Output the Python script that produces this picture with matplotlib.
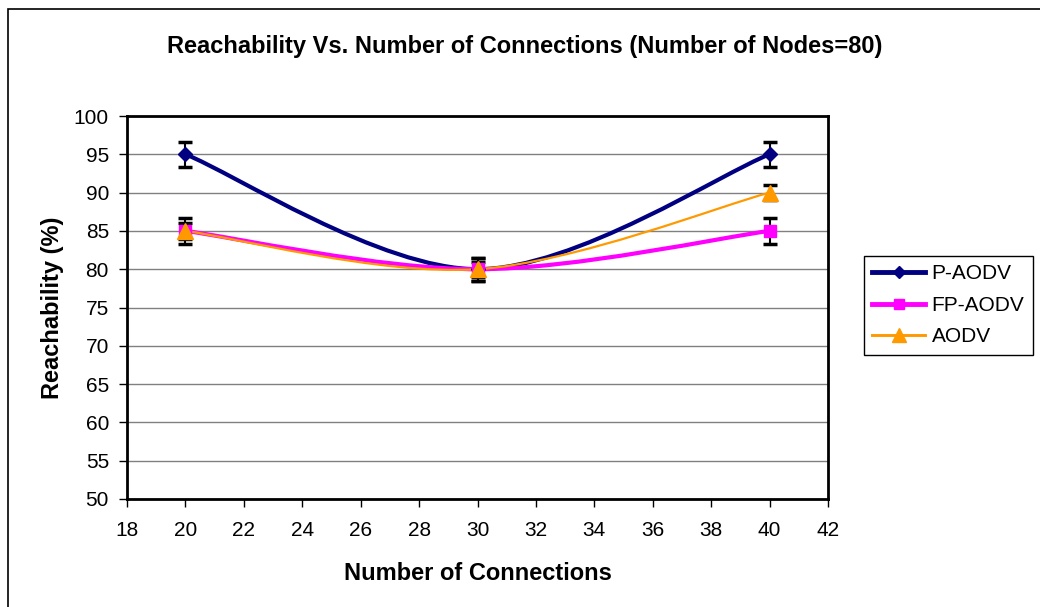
import matplotlib
matplotlib.use("Agg")
import matplotlib.pyplot as plt
from matplotlib.path import Path
from matplotlib.patches import PathPatch, Rectangle
from matplotlib.lines import Line2D

plt.rcParams['font.family'] = ['Liberation Sans', 'DejaVu Sans']

connections = [20, 30, 40]
p_aodv = [95, 80, 95]
fp_aodv = [85, 80, 85]
aodv = [85, 80, 90]
p_err = [1.6, 1.5, 1.6]
fp_err = [1.7, 1.5, 1.7]
aodv_err = [1.0, 1.0, 1.0]

series = [
    ("P-AODV", p_aodv, p_err, "#000080", 3.0, "D", 7),
    ("FP-AODV", fp_aodv, fp_err, "#FF00FF", 3.0, "s", 8),
    ("AODV", aodv, aodv_err, "#FF9900", 1.6, "^", 12),
]


def smooth_path(xs, ys):
    # Excel style smoothed line (Catmull-Rom as cubic beziers)
    pts = list(zip(xs, ys))
    n = len(pts)
    verts = [pts[0]]
    codes = [Path.MOVETO]
    for i in range(n - 1):
        p0 = pts[max(i - 1, 0)]
        p1 = pts[i]
        p2 = pts[i + 1]
        p3 = pts[min(i + 2, n - 1)]
        c1 = (p1[0] + (p2[0] - p0[0]) / 6, p1[1] + (p2[1] - p0[1]) / 6)
        c2 = (p2[0] - (p3[0] - p1[0]) / 6, p2[1] - (p3[1] - p1[1]) / 6)
        verts += [c1, c2, p2]
        codes += [Path.CURVE4] * 3
    return Path(verts, codes)


fig = plt.figure(figsize=(10.4, 6.07), dpi=100)
ax = fig.add_axes([127 / 1040, 108 / 607, 701 / 1040, 383 / 607])

for name, vals, err, col, lw, mk, ms in series:
    ax.add_patch(PathPatch(smooth_path(connections, vals), facecolor='none',
                           edgecolor=col, lw=lw, zorder=3))
    ax.errorbar(connections, vals, yerr=err, fmt='none', ecolor='black',
                elinewidth=1.5, capsize=5, capthick=2.5, zorder=4)
for name, vals, err, col, lw, mk, ms in series:
    ax.plot(connections, vals, linestyle='none', marker=mk, markersize=ms,
            color=col, zorder=5)

ax.set_xlim(18, 42)
ax.set_ylim(50, 100)
ax.set_xticks(range(18, 43, 2))
ax.set_yticks(range(50, 101, 5))
ax.grid(axis='y', color='#808080', lw=1)
ax.set_axisbelow(True)
for s in ax.spines.values():
    s.set_linewidth(2)
    s.set_color('black')
ax.tick_params(direction='out', length=6, width=1, labelsize=15, color='black')
ax.tick_params(axis='x', pad=10)
ax.tick_params(axis='y', pad=7)

ax.set_xlabel("Number of Connections", fontsize=17, fontweight='bold', labelpad=16)
ax.set_ylabel("Reachability (%)", fontsize=17, fontweight='bold', labelpad=7)
fig.text(525 / 1040, 1 - 46 / 607,
         "Reachability Vs. Number of Connections (Number of Nodes=80)",
         ha='center', va='center', fontsize=17, fontweight='bold')

handles = [Line2D([], [], color=col, lw=lw + 0.5, marker=mk, markersize=ms * 0.85)
           for name, vals, err, col, lw, mk, ms in series]
leg = fig.legend(handles, [s[0] for s in series], loc='upper left',
                 bbox_to_anchor=(864 / 1040, 1 - 256 / 607), borderaxespad=0,
                 fancybox=False, edgecolor='black', fontsize=15,
                 handlelength=2.55, handletextpad=0.3, borderpad=0.4,
                 labelspacing=0.6, framealpha=1)
leg.get_frame().set_linewidth(1)

fig.add_artist(Rectangle((8 / 1040, -0.1), 1.2, 1 - 9 / 607 + 0.1,
                         transform=fig.transFigure, fill=False,
                         edgecolor='black', lw=1.2))

fig.savefig("out.png", dpi=100)
